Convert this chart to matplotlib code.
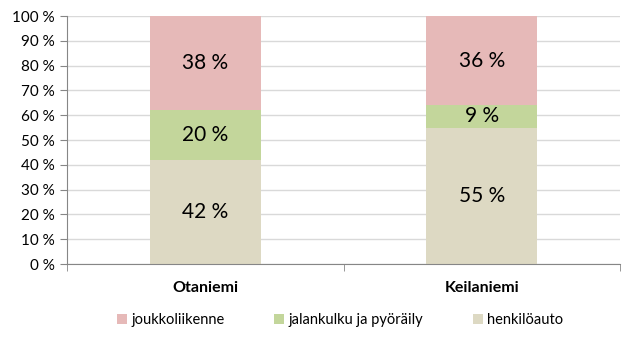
import matplotlib
matplotlib.use("Agg")
import matplotlib.pyplot as plt
from matplotlib.ticker import FixedLocator
import numpy as np

plt.rcParams['font.family'] = ['Lato', 'DejaVu Sans']

categories = ["Otaniemi", "Keilaniemi"]
series_names = ["joukkoliikenne", "jalankulku ja pyöräily", "henkilöauto"]
henkiloauto = [42, 55]
jalankulku = [20, 9]
joukkoliikenne = [38, 36]
yticks = [0, 10, 20, 30, 40, 50, 60, 70, 80, 90, 100]

colors = {"joukkoliikenne": "#E6B9B8", "jalankulku ja pyöräily": "#C3D69B", "henkilöauto": "#DDD9C3"}

fig = plt.figure(figsize=(6.27, 3.37), dpi=100)
ax = fig.add_axes([67/627, (337-264)/337, (620-67)/627, (264-16)/337])

x = np.arange(len(categories))
w = 0.4
stack = [("henkilöauto", henkiloauto), ("jalankulku ja pyöräily", jalankulku), ("joukkoliikenne", joukkoliikenne)]
bottom = np.zeros(len(categories))
handles = {}
for name, vals in stack:
    vals = np.array(vals, dtype=float)
    b = ax.bar(x, vals, w, bottom=bottom, color=colors[name], zorder=2, label=name)
    handles[name] = b
    for xi, v, bt in zip(x, vals, bottom):
        ax.text(xi, bt + v/2, f"{int(v)} %", ha='center', va='center', fontsize=15, zorder=3)
    bottom += vals

ax.set_xlim(-0.5, 1.5)
ax.set_ylim(0, 100)
ax.set_yticks(yticks)
ax.set_yticklabels([f"{t} %" for t in yticks], fontsize=11)
ax.yaxis.grid(True, color="#D9D9D9", linewidth=1, zorder=0)
ax.set_axisbelow(True)

ax.set_xticks(x)
ax.set_xticklabels(categories, fontsize=11.5, fontweight='bold')
ax.tick_params(axis='x', length=0, pad=12)
ax.xaxis.set_minor_locator(FixedLocator([-0.5, 0.5, 1.5]))
ax.tick_params(axis='x', which='minor', length=5, color="#868686")
ax.tick_params(axis='y', length=5, color="#868686", pad=4)

for s in ['top', 'right']:
    ax.spines[s].set_visible(False)
ax.spines['left'].set_color("#868686")
ax.spines['bottom'].set_color("#868686")

leg = fig.legend([handles[n] for n in series_names], series_names, loc='center',
                 bbox_to_anchor=(340/627, (337-320)/337), ncol=3, frameon=False,
                 fontsize=10.5, handlelength=0.7, handleheight=0.7, handletextpad=0.3,
                 columnspacing=3.4)

fig.savefig("out.png", dpi=100)
